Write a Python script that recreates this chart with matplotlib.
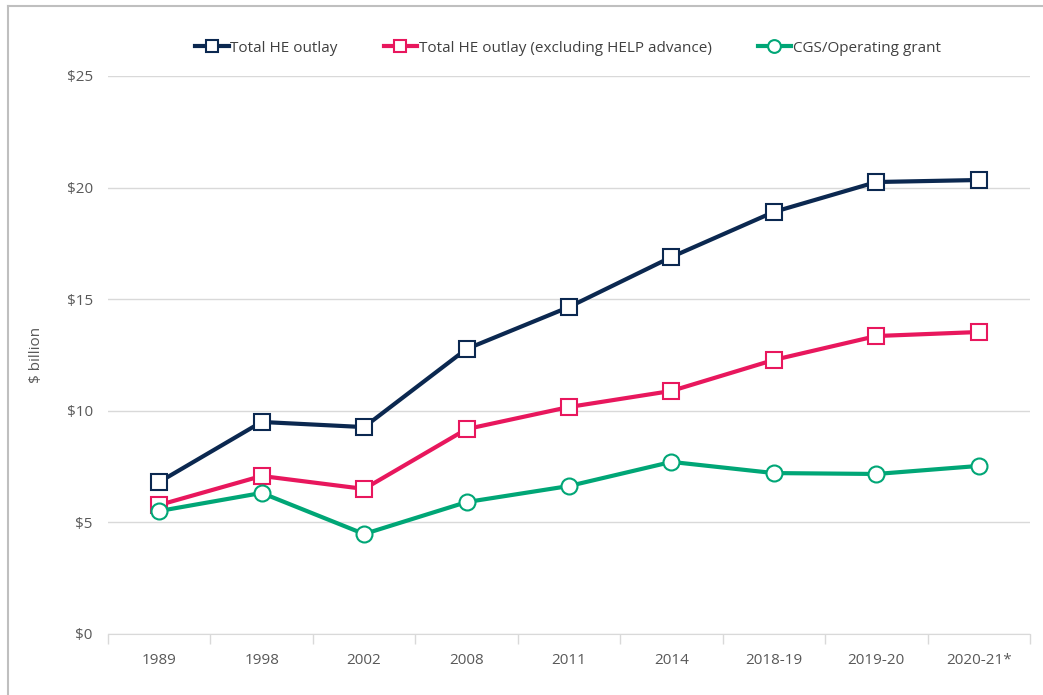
import matplotlib.pyplot as plt
from matplotlib.lines import Line2D
import numpy as np

years = ["1989", "1998", "2002", "2008", "2011", "2014", "2018-19", "2019-20", "2020-21*"]
total_he = [6.81, 9.50, 9.27, 12.77, 14.65, 16.89, 18.91, 20.25, 20.34]
total_he_ex_help = [5.78, 7.08, 6.50, 9.18, 10.17, 10.89, 12.28, 13.35, 13.53]
cgs_grant = [5.51, 6.32, 4.48, 5.91, 6.63, 7.71, 7.21, 7.17, 7.53]

plt.rcParams["font.family"] = ["Open Sans", "DejaVu Sans"]

fig = plt.figure(figsize=(10.43, 6.95), dpi=100)
ax = fig.add_axes([108 / 1043, 1 - 634 / 695, (1030 - 108) / 1043, (634 - 76) / 695])

x = np.arange(len(years))
ax.plot(x, total_he, color="#0B2850", lw=3, marker="s", ms=11.5, mfc="white",
        mec="#0B2850", mew=1.5, label="Total HE outlay", zorder=4)
ax.plot(x, total_he_ex_help, color="#E8175D", lw=3, marker="s", ms=11.5, mfc="white",
        mec="#E8175D", mew=1.5, label="Total HE outlay (excluding HELP advance)", zorder=4)
ax.plot(x, cgs_grant, color="#00A676", lw=3, marker="o", ms=11.5, mfc="white",
        mec="#00A676", mew=1.5, label="CGS/Operating grant", zorder=4)

ax.set_xlim(-0.5, len(years) - 0.5)
ax.set_ylim(0, 25)
ax.set_yticks([0, 5, 10, 15, 20, 25])
ax.set_yticklabels(["$0", "$5", "$10", "$15", "$20", "$25"])
ax.set_xticks(x)
ax.set_xticklabels(years)
ax.set_xticks(np.arange(len(years) + 1) - 0.5, minor=True)
ax.tick_params(axis="x", which="major", length=0, pad=14, labelsize=11, labelcolor="#595959")
ax.tick_params(axis="x", which="minor", length=7, color="#D9D9D9", width=1)
ax.tick_params(axis="y", length=0, pad=11, labelsize=11, labelcolor="#595959")
ax.grid(axis="y", color="#D9D9D9", lw=1)
ax.set_axisbelow(True)
for s in ["top", "right", "left"]:
    ax.spines[s].set_visible(False)
ax.spines["bottom"].set_color("#D9D9D9")
ax.set_ylabel("$ billion", fontsize=11, color="#595959", labelpad=16)

ax.legend(loc="center", bbox_to_anchor=(568 / 1043, 1 - 48 / 695), bbox_transform=fig.transFigure,
          ncol=3, frameon=False, fontsize=11, handlelength=2.2, handletextpad=0.1,
          columnspacing=3, labelcolor="#404040", markerscale=0.8)

# chart frame (top and left edges visible)
fig.add_artist(Line2D([8 / 1043, 1], [1 - 6 / 695, 1 - 6 / 695], color="#BFBFBF", lw=1.5))
fig.add_artist(Line2D([8 / 1043, 8 / 1043], [0, 1 - 6 / 695], color="#BFBFBF", lw=1.5))

fig.savefig("out.png", dpi=100)
